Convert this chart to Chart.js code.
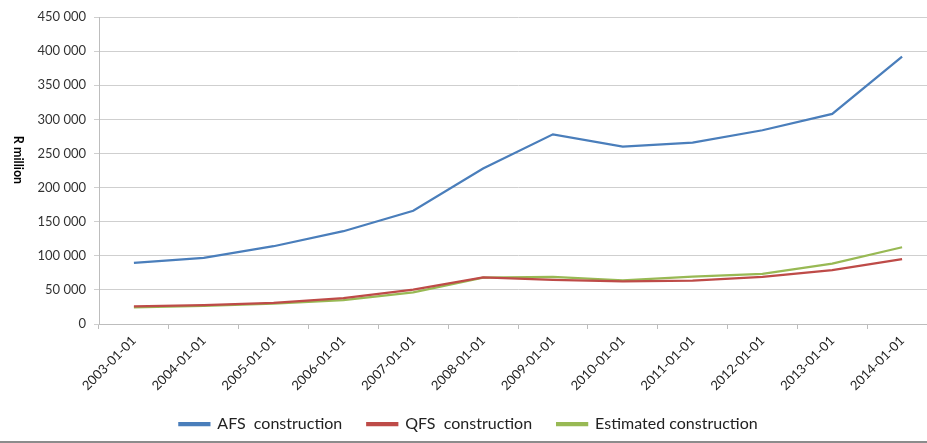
<!DOCTYPE html>
<html>
<head>
<meta charset="utf-8">
<script src="https://cdn.jsdelivr.net/npm/chart.js@4/dist/chart.umd.min.js"></script>
<style>
  html, body { margin: 0; padding: 0; background: #fff; overflow: hidden; }
  #wrap { position: relative; width: 927px; height: 443px; overflow: hidden; }
  #box { position: absolute; left: 0; top: 0; width: 945px; height: 447px; }
  #rule { position: absolute; left: 0; top: 441px; width: 927px; height: 2px; background: #8c8c8c; z-index: 2; }
</style>
</head>
<body>
<div id="wrap">
  <div id="box"><canvas id="myChart"></canvas></div>
  <div id="rule"></div>
</div>
<script>
const labels = ["2003-01-01", "2004-01-01", "2005-01-01", "2006-01-01", "2007-01-01", "2008-01-01",
  "2009-01-01", "2010-01-01", "2011-01-01", "2012-01-01", "2013-01-01", "2014-01-01"];

const afsConstruction = [89500, 97000, 114000, 136000, 166000, 228000, 278000, 260000, 266000, 284000, 308000, 392000];
const qfsConstruction = [26000, 27500, 31000, 38000, 50500, 68500, 64500, 62500, 63500, 69000, 79000, 95000];
const estimatedConstruction = [24500, 26500, 30000, 35000, 46500, 68000, 69000, 64000, 69500, 73500, 88500, 112500];

const yTitle = "R million";

// y axis title reads top to bottom in the original
const sideTitle = {
  id: "sideTitle",
  afterDraw(chart) {
    const c = chart.ctx;
    c.save();
    c.translate(18, 160);
    c.rotate(Math.PI / 2);
    c.font = "bold 12.5px Lato";
    c.fillStyle = "#000";
    c.textAlign = "center";
    c.textBaseline = "middle";
    c.fillText(yTitle, 0, 0);
    c.restore();
  },
};

const ctx = document.getElementById("myChart");

const myChart = new Chart(ctx, {
  type: "line",
  data: {
    labels: labels,
    datasets: [
      {
        label: "AFS  construction",
        data: afsConstruction,
        borderColor: "#4A7EBB",
        backgroundColor: "#4A7EBB",
        borderWidth: 2.25,
        pointRadius: 0,
        tension: 0,
      },
      {
        label: "QFS  construction",
        data: qfsConstruction,
        borderColor: "#BE4B48",
        backgroundColor: "#BE4B48",
        borderWidth: 2.25,
        pointRadius: 0,
        tension: 0,
      },
      {
        label: "Estimated construction",
        data: estimatedConstruction,
        borderColor: "#98B954",
        backgroundColor: "#98B954",
        borderWidth: 2.25,
        pointRadius: 0,
        tension: 0,
      },
    ],
  },
  options: {
    responsive: true,
    maintainAspectRatio: false,
    animation: false,
    layout: { padding: { top: 17, right: 8, bottom: 5, left: 0 } },
    plugins: {
      tooltip: { enabled: false },
      legend: {
        position: "bottom",
        labels: {
          boxWidth: 30,
          boxHeight: 2,
          padding: 25,
          color: "#222",
          font: { family: "Lato", size: 16 },
        },
      },
    },
    scales: {
      x: {
        offset: true,
        afterFit: (scale) => { scale.height = 67; },
        grid: { drawOnChartArea: false, offset: true, tickLength: 5, color: "#bdbdbd" },
        border: { color: "#bdbdbd" },
        ticks: {
          maxRotation: 45,
          minRotation: 45,
          autoSkip: false,
          padding: 4,
          color: "#222",
          font: { family: "Lato", size: 13 },
        },
      },
      y: {
        min: 0,
        max: 450000,
        afterFit: (scale) => { scale.width = 99; },
        grid: { color: "#cfcfcf", tickLength: 5 },
        border: { color: "#bdbdbd" },
        ticks: {
          stepSize: 50000,
          padding: 8,
          color: "#333",
          font: { family: "Lato", size: 13 },
          callback: (v) => v.toLocaleString("en-US").replace(/,/g, " "),
        },
      },
    },
  },
  plugins: [sideTitle],
});
</script>
</body>
</html>
